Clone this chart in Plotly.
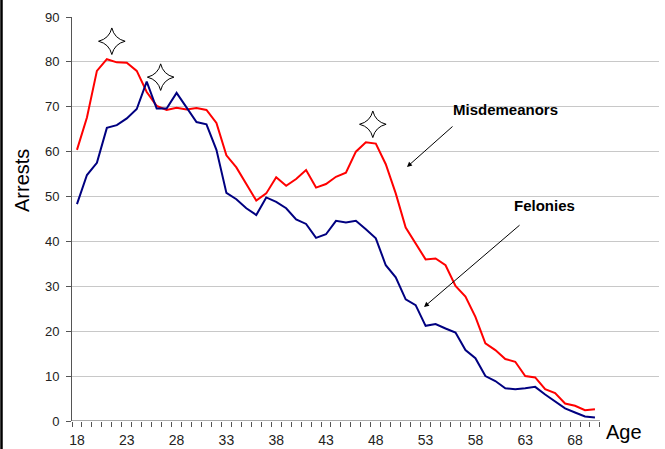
import plotly.graph_objects as go

ages = list(range(18, 71))
misdemeanors = [60.4, 67.6, 78.0, 80.6, 79.9, 79.8, 78.0, 73.3, 70.2, 69.3,
                69.8, 69.4, 69.7, 69.3, 66.4, 59.2, 56.5, 52.9, 49.1, 50.7,
                54.3, 52.4, 53.9, 55.9, 52.0, 52.8, 54.4, 55.3, 60.0, 62.1,
                61.8, 57.2, 50.7, 43.1, 39.4, 36.0, 36.2, 34.7, 30.1, 27.7,
                23.2, 17.3, 15.8, 13.8, 13.2, 10.0, 9.7, 7.1, 6.2, 3.9,
                3.4, 2.4, 2.6]
felonies = [48.3, 54.8, 57.5, 65.3, 65.9, 67.4, 69.5, 75.6, 69.6, 69.6,
            73.1, 69.8, 66.6, 66.1, 60.4, 50.8, 49.4, 47.4, 45.9, 49.8,
            48.8, 47.4, 44.9, 43.9, 40.8, 41.6, 44.6, 44.2, 44.6, 42.7,
            40.7, 34.7, 32.0, 27.1, 25.8, 21.2, 21.6, 20.6, 19.7, 15.8,
            14.0, 10.0, 8.9, 7.3, 7.1, 7.3, 7.6, 5.9, 4.3, 2.8,
            1.9, 1.0, 0.8]
tick_ages = [18, 23, 28, 33, 38, 43, 48, 53, 58, 63, 68]
star_x = [21.5, 26.4, 47.7]
star_y = [84.6, 76.6, 66.1]

FONT = "Arial, Liberation Sans, sans-serif"

fig = go.Figure()
fig.add_trace(go.Scatter(x=ages, y=misdemeanors, mode="lines",
                         line=dict(color="#FF0000", width=2), name="Misdemeanors"))
fig.add_trace(go.Scatter(x=ages, y=felonies, mode="lines",
                         line=dict(color="#000080", width=2), name="Felonies"))
fig.add_trace(go.Scatter(x=star_x, y=star_y, mode="markers",
                         marker=dict(symbol="star-diamond", size=19, color="white",
                                     line=dict(color="black", width=1)),
                         name="stars"))

x_lo, x_hi = ages[0] - 0.5, ages[-1] + 0.5
fig.update_xaxes(range=[x_lo, 76.43], tickvals=tick_ages, ticktext=[str(a) for a in tick_ages],
                 ticks="", showgrid=False, showline=False, zeroline=False, automargin=False,
                 tickfont=dict(family=FONT, size=14, color="#222"),
                 ticklabelstandoff=9,
                 minor=dict(tickvals=[a - 0.5 for a in ages] + [x_hi], ticks="outside",
                            ticklen=5, tickcolor="#555", showgrid=False))
fig.update_yaxes(range=[0, 90], dtick=10, showgrid=True, gridcolor="#c8c8c8", gridwidth=1,
                 showline=True, linecolor="#555", linewidth=1, zeroline=False, automargin=False,
                 ticks="outside", ticklen=5, tickcolor="#555",
                 tickfont=dict(family=FONT, size=13, color="#222"),
                 ticklabelstandoff=4)

fig.add_shape(type="line", xref="x", yref="y", x0=x_lo, x1=x_hi, y0=0, y1=0,
              line=dict(color="#555", width=1))
fig.add_shape(type="line", xref="paper", yref="paper", x0=-0.1201, x1=-0.1201,
              y0=-0.08, y1=1.06, line=dict(color="black", width=2.5))

fig.add_annotation(x=51.13, y=56.6, ax=55.85, ay=65.9, xref="x", yref="y",
                   axref="x", ayref="y", text="", showarrow=True,
                   arrowhead=2, arrowsize=1, arrowwidth=1, arrowcolor="black")
fig.add_annotation(x=52.84, y=25.4, ax=62.58, ay=43.9, xref="x", yref="y",
                   axref="x", ayref="y", text="", showarrow=True,
                   arrowhead=2, arrowsize=1, arrowwidth=1, arrowcolor="black")
fig.add_annotation(x=60.97, y=69.5, xref="x", yref="y", text="<b>Misdemeanors</b>",
                   showarrow=False, xanchor="center", yanchor="middle",
                   font=dict(family=FONT, size=15, color="black"))
fig.add_annotation(x=64.9, y=48.1, xref="x", yref="y", text="<b>Felonies</b>",
                   showarrow=False, xanchor="center", yanchor="middle",
                   font=dict(family=FONT, size=15, color="black"))
fig.add_annotation(x=(22 - 72) / 587, y=(421 - 181) / 404, xref="paper", yref="paper",
                   text="Arrests", textangle=-90, showarrow=False,
                   xanchor="center", yanchor="middle",
                   font=dict(family=FONT, size=20, color="black"))
fig.add_annotation(x=(624 - 72) / 587, y=(421 - 432) / 404, xref="paper", yref="paper",
                   text="Age", showarrow=False, xanchor="center", yanchor="middle",
                   font=dict(family=FONT, size=20, color="black"))

fig.update_layout(width=665, height=449, margin=dict(l=72, r=6, t=17, b=28),
                  paper_bgcolor="white", plot_bgcolor="white", showlegend=False,
                  font=dict(family=FONT))

fig.write_html("out.html", config={"displayModeBar": False},
               post_script="document.body.style.margin='0';document.body.style.overflow='hidden';")
